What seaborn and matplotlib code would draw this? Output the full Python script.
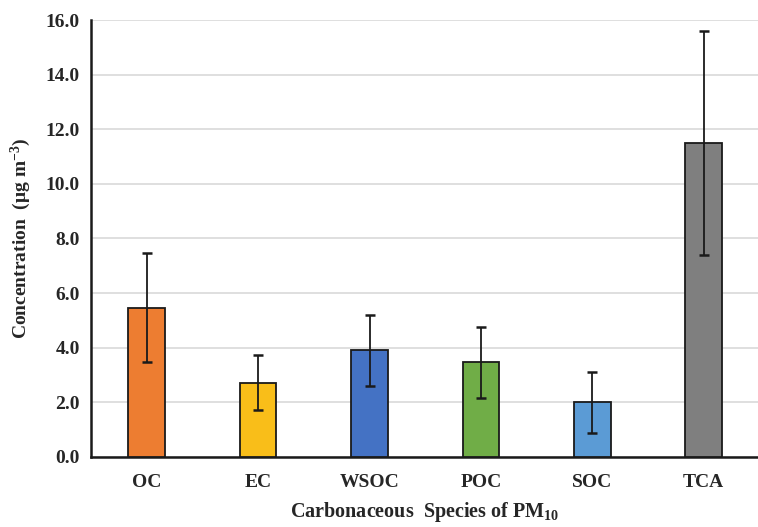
import matplotlib
matplotlib.use("Agg")
import matplotlib.pyplot as plt
from matplotlib.ticker import FixedLocator
import pandas as pd
import seaborn as sns

SPECIES = ["OC", "EC", "WSOC", "POC", "SOC", "TCA"]
MEANS = [5.46, 2.72, 3.90, 3.46, 2.00, 11.48]
ERRORS = [2.00, 1.00, 1.30, 1.31, 1.12, 4.10]
COLORS = ["#ED7D31", "#F9BE19", "#4472C4", "#70AD47", "#5B9BD5", "#7F7F7F"]
Y_TICKS = [0, 2, 4, 6, 8, 10, 12, 14, 16]

sns.set_style("white")
plt.rcParams["font.family"] = ["Liberation Serif", "DejaVu Serif"]
plt.rcParams["font.weight"] = "bold"
plt.rcParams["mathtext.fontset"] = "custom"
plt.rcParams["mathtext.rm"] = "Liberation Serif:bold"
plt.rcParams["mathtext.bf"] = "Liberation Serif:bold"
plt.rcParams["mathtext.it"] = "Liberation Serif:bold"

df = pd.DataFrame({"species": SPECIES, "mean": MEANS, "err": ERRORS})

fig = plt.figure(figsize=(7.58, 5.27), dpi=100)
ax = fig.add_axes([0.12, 0.133, 0.882, 0.829])

sns.barplot(
    data=df,
    x="species",
    y="mean",
    hue="species",
    order=SPECIES,
    hue_order=SPECIES,
    palette=dict(zip(SPECIES, COLORS)),
    width=0.33,
    edgecolor="#1a1a1a",
    linewidth=1.3,
    legend=False,
    errorbar=None,
    saturation=1,
    ax=ax,
    zorder=3,
)
ax.errorbar(
    df["species"], df["mean"], yerr=df["err"],
    fmt="none", ecolor="#1a1a1a", elinewidth=1.3,
    capsize=3.5, capthick=1.8, zorder=4,
)

ax.set_xlim(-0.5, 5.5)
ax.set_ylim(0, 16)
ax.set_yticks(Y_TICKS)
ax.set_yticklabels([f"{v:.1f}" for v in Y_TICKS])
ax.yaxis.grid(True, color="#d9d9d9", linewidth=1.2, zorder=0)
ax.set_axisbelow(True)

for side in ["top", "right"]:
    ax.spines[side].set_visible(False)
for side in ["left", "bottom"]:
    ax.spines[side].set_color("#1a1a1a")
    ax.spines[side].set_linewidth(1.8)

ax.tick_params(axis="y", direction="out", length=4, width=1.5,
               color="#1a1a1a", labelsize=14, pad=4)
ax.tick_params(axis="x", which="major", length=0, labelsize=14, pad=12)
ax.xaxis.set_minor_locator(FixedLocator([0.5, 1.5, 2.5, 3.5, 4.5]))
ax.tick_params(axis="x", which="minor", direction="in", length=5,
               width=1.5, color="#1a1a1a")

for lab in ax.get_xticklabels() + ax.get_yticklabels():
    lab.set_fontweight("bold")

ax.set_xlabel(r"Carbonaceous  Species of PM$_{10}$", fontsize=14.5,
              fontweight="bold", labelpad=7)
ax.set_ylabel(r"Concentration  (μg m$^{-3}$)", fontsize=14,
              fontweight="bold", labelpad=9)

fig.savefig("out.png", dpi=100)
